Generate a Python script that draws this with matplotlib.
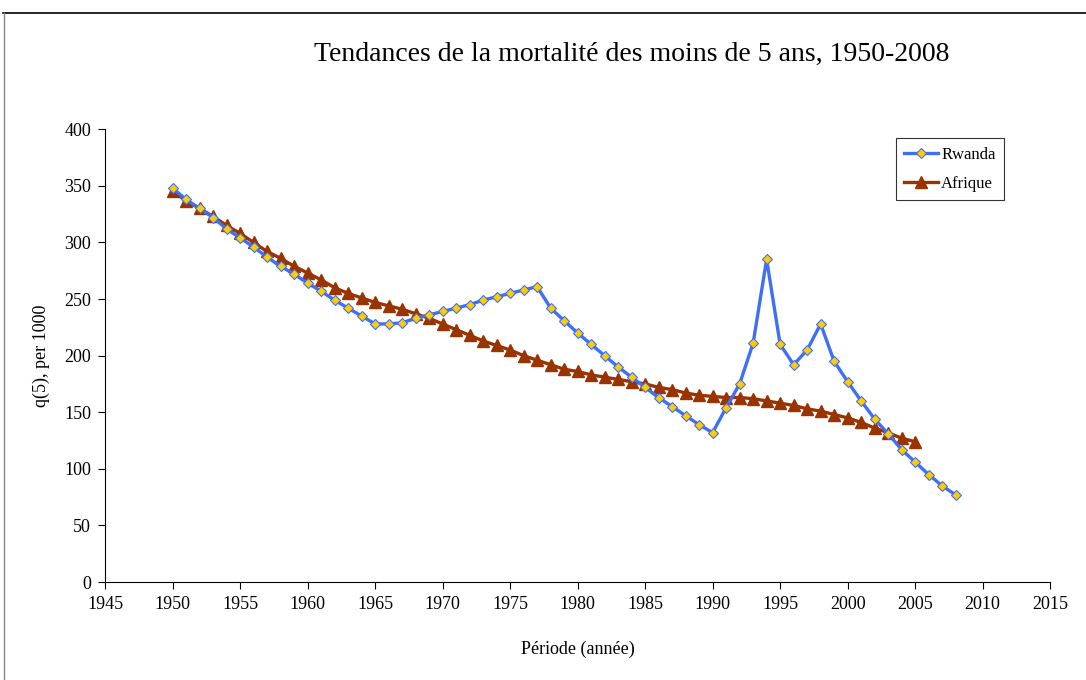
import matplotlib
matplotlib.use("Agg")
import matplotlib.pyplot as plt
from matplotlib.lines import Line2D
import numpy as np

years_rw = np.arange(1950, 2009)
rwanda = [348, 338, 330, 322, 312, 304, 296, 287, 279, 272,
          264, 257, 249, 242, 235, 228, 228, 229, 233, 236,
          239, 242, 245, 249, 252, 255, 258, 261, 242, 231,
          220, 210, 200, 190, 181, 172, 163, 155, 147, 139,
          132, 154, 175, 211, 285, 210, 192, 205, 228, 195,
          177, 160, 144, 131, 117, 106, 95, 85, 77]

years_af = np.arange(1950, 2006)
afrique = [345, 337, 330, 323, 315, 308, 300, 292, 286, 279,
           273, 267, 260, 255, 251, 247, 244, 241, 237, 233,
           228, 223, 218, 213, 209, 205, 200, 196, 192, 188,
           186, 183, 181, 179, 177, 175, 172, 170, 167, 165,
           164, 163, 163, 162, 160, 158, 156, 153, 151, 148,
           145, 141, 136, 132, 127, 124]

plt.rcParams["font.family"] = ["Liberation Serif", "DejaVu Serif"]

fig = plt.figure(figsize=(10.86, 6.8), dpi=100)
ax = fig.add_axes([0.0967, 0.144, 0.8703, 0.666])

blue = "#3F6FF5"
ax.plot(years_rw, rwanda, color=blue, lw=2.4, marker="D", markersize=5.5,
        markerfacecolor="#FFCC00", markeredgecolor=blue, markeredgewidth=0.8,
        label="Rwanda", zorder=3)
ax.plot(years_af, afrique, color="#993300", lw=2.4, marker="^", markersize=8,
        markerfacecolor="#993300", markeredgecolor="#993300",
        label="Afrique", zorder=2)

ax.set_xlim(1945, 2015)
ax.set_ylim(0, 400)
ax.set_xticks(np.arange(1945, 2016, 5))
ax.set_yticks(np.arange(0, 401, 50))
ax.spines["top"].set_visible(False)
ax.spines["right"].set_visible(False)
ax.tick_params(direction="out", length=5, labelsize=13, pad=5)

ax.set_xlabel("Période (année)", fontsize=13, labelpad=20)
ax.set_ylabel("q(5), per 1000", fontsize=13, labelpad=10)

leg = ax.legend(loc="upper right", bbox_to_anchor=(0.951, 0.98), fontsize=12,
                frameon=True, fancybox=False, edgecolor="black",
                handlelength=2.0, labelspacing=0.8, borderpad=0.5,
                handletextpad=0.2, borderaxespad=0)
leg.get_frame().set_linewidth(0.8)

fig.text(0.582, 0.92, "Tendances de la mortalité des moins de 5 ans, 1950-2008",
         ha="center", va="center", fontsize=20)

# outer chart frame (top and left edges visible)
fig.add_artist(Line2D([0.003, 1.0], [0.981, 0.981], transform=fig.transFigure,
                      color="black", lw=1.2))
fig.add_artist(Line2D([0.004, 0.004], [0.0, 0.981], transform=fig.transFigure,
                      color="#888888", lw=1.0))

fig.savefig("out.png", dpi=100)
